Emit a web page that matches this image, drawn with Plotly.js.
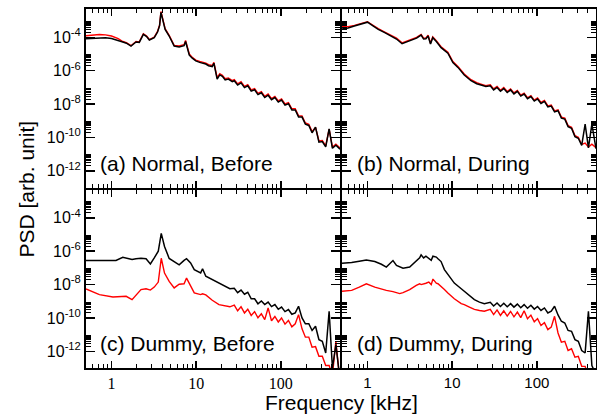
<!DOCTYPE html>
<html><head><meta charset="utf-8">
<script src="https://cdn.plot.ly/plotly-3.0.1.min.js"></script>
<style>html,body{margin:0;padding:0;background:#fff}#chart{width:597px;height:420px}</style>
</head><body><div id="chart"></div>
<script>
// Frequencies in kHz; PSD stored as log10 exponents
const hiFreq = [28.2,30.9,33.9,37.2,40.7,44.7,49.0,53.7,58.9,64.6,70.8,77.6,85.1,93.3,102,112,123,135,148,162,178,195,214,234,257,282,309,339,372,407,447,500];

// (a) Normal, Before
const aFreq = [0.5,0.6,0.72,0.85,1.0,1.2,1.36,1.5,1.7,1.95,2.13,2.38,2.6,2.8,3.2,3.5,3.7,3.84,4.0,4.3,4.8,5.5,6.3,7.2,7.5,7.8,8.3,9.0,9.9,11,12,13,14,15.5,16.2,17.7,19,20.4,22,24,26.7];
const aBlackLow = [-4.08,-4.05,-4.02,-4.03,-4.07,-4.17,-4.28,-4.35,-4.52,-4.28,-4.3,-3.82,-3.95,-4.16,-4.02,-3.68,-3.3,-2.5,-2.9,-3.52,-3.92,-4.52,-4.58,-4.5,-4.25,-4.55,-5.07,-5.25,-5.41,-5.5,-5.55,-5.6,-5.7,-5.75,-5.55,-6.5,-6.25,-6.34,-6.55,-6.5,-6.66];
const aRedLow = [-3.9,-3.86,-3.83,-3.85,-3.92,-4.08,-4.25,-4.32,-4.5,-4.25,-4.27,-3.78,-3.92,-4.13,-3.98,-3.64,-3.26,-2.45,-2.86,-3.48,-3.88,-4.48,-4.52,-4.44,-4.18,-4.5,-5.0,-5.2,-5.36,-5.44,-5.5,-5.54,-5.64,-5.69,-5.5,-6.42,-6.18,-6.27,-6.48,-6.43,-6.59];
const aBlackHi = [-6.60,-6.86,-6.73,-7.01,-6.90,-7.22,-7.14,-7.43,-7.32,-7.61,-7.47,-7.74,-7.61,-7.88,-7.76,-8.06,-7.98,-8.35,-8.35,-8.77,-8.78,-9.2,-9.28,-9.72,-9.38,-10.28,-10.25,-10.57,-9.48,-10.65,-10.47,-10.7];
const aRedHi = [-6.53,-6.79,-6.66,-6.94,-6.83,-7.15,-7.07,-7.36,-7.25,-7.54,-7.40,-7.67,-7.54,-7.81,-7.69,-7.99,-7.91,-8.28,-8.28,-8.70,-8.71,-9.13,-9.21,-9.65,-9.4,-10.21,-10.18,-10.50,-9.5,-10.58,-10.40,-10.63];

// (b) Normal, During
const bFreq = [0.5,0.59,0.7,0.85,1.0,1.15,1.34,1.6,1.92,2.2,2.56,2.9,3.3,3.8,4.3,4.6,4.9,5.2,5.55,5.9,6.5,7.4,8.9,10.2,11.7,13.9,16.7,19.5,21.9,25];
const bBlackLow = [-3.5,-3.44,-3.32,-3.2,-3.09,-3.3,-3.52,-3.72,-3.96,-4.1,-4.38,-4.28,-4.16,-4.05,-3.86,-4.1,-4.08,-3.92,-4.4,-4.02,-4.25,-4.62,-4.95,-5.51,-5.8,-6.26,-6.6,-6.78,-6.86,-6.95];
const bRedLow = [-3.36,-3.36,-3.28,-3.16,-3.06,-3.26,-3.48,-3.68,-3.92,-4.05,-4.33,-4.23,-4.11,-4.0,-3.82,-4.05,-4.03,-3.87,-4.35,-3.97,-4.2,-4.56,-4.89,-5.45,-5.74,-6.2,-6.54,-6.72,-6.8,-6.89];
const bBlackHi = [-6.90,-7.15,-7.00,-7.23,-7.07,-7.31,-7.15,-7.39,-7.24,-7.52,-7.40,-7.68,-7.55,-7.82,-7.69,-7.96,-7.84,-8.17,-8.12,-8.47,-8.40,-8.84,-8.90,-9.35,-9.45,-9.95,-10.05,-10.48,-9.2,-10.63,-9.2,-10.67];
const bRedHi = [-6.84,-7.09,-6.94,-7.17,-7.01,-7.25,-7.09,-7.33,-7.18,-7.46,-7.34,-7.62,-7.49,-7.76,-7.63,-7.90,-7.78,-8.11,-8.06,-8.41,-8.34,-8.78,-8.84,-9.29,-9.39,-9.89,-9.99,-10.42,-10.34,-10.57,-10.40,-10.61];

// (c) Dummy, Before
const cFreq = [0.5,0.72,1.04,1.13,1.36,1.49,1.75,1.95,2.23,2.56,2.88,3.2,3.57,3.87,4.23,4.8,5.5,6.3,7.2,7.7,8.6,9.5,11.3,11.9,13,15.5,18.6,22,25];
const cBlackLow = [-6.56,-6.56,-6.56,-6.55,-6.36,-6.42,-6.5,-6.45,-6.42,-6.45,-6.76,-6.4,-6.0,-4.93,-5.72,-6.43,-6.65,-6.82,-6.55,-6.45,-6.7,-7.1,-7.3,-7.05,-7.5,-7.7,-7.9,-8.1,-8.25];
const cRedLow = [-8.26,-8.6,-8.74,-8.74,-8.72,-8.7,-8.9,-8.6,-8.3,-8.25,-8.33,-8.15,-7.85,-6.42,-7.31,-7.81,-8.2,-7.98,-7.95,-7.61,-8.05,-8.5,-8.6,-8.55,-8.62,-8.94,-9.2,-9.28,-9.33];
const cBlackHi = [-8.22,-8.48,-8.33,-8.58,-8.46,-8.85,-8.85,-9.15,-8.98,-9.2,-9.05,-9.32,-9.2,-9.48,-9.35,-9.62,-9.5,-9.78,-9.7,-9.3,-10.0,-10.35,-10.35,-10.75,-10.5,-11.3,-11.4,-12.1,-9.6,-13.0,-11.6,-13.7];
const cRedHi = [-9.23,-9.57,-9.33,-9.70,-9.48,-9.85,-9.62,-9.99,-9.75,-10.10,-9.4,-10.17,-9.91,-10.24,-10.0,-10.37,-10.15,-10.53,-10.35,-9.8,-10.65,-11.15,-11.15,-11.75,-11.72,-12.3,-12.3,-12.85,-12.85,-13.45,-11.38,-13.9];

// (d) Dummy, During
const dFreq = [0.5,0.65,0.8,0.97,1.22,1.46,1.67,2.0,2.2,2.4,2.63,3.15,3.77,4.13,4.3,4.6,4.9,5.3,5.66,5.93,6.5,6.8,7.4,8.1,8.9,9.7,10.6,12.8,13.9,16,18.3,21,24];
const dBlackLow = [-6.72,-6.68,-6.6,-6.52,-6.62,-6.78,-6.95,-6.56,-6.85,-6.92,-7.02,-6.95,-6.55,-6.4,-6.22,-6.4,-6.3,-6.45,-6.55,-6.3,-6.35,-6.45,-6.62,-7.1,-7.41,-7.65,-7.91,-8.25,-8.4,-8.65,-8.9,-9.05,-9.14];
const dRedLow = [-8.4,-8.35,-8.15,-7.95,-8.15,-8.29,-8.35,-8.42,-8.48,-8.54,-8.48,-8.3,-8.05,-7.95,-8.0,-7.98,-7.92,-7.85,-8.0,-7.67,-7.92,-7.95,-8.1,-8.29,-8.5,-8.7,-8.85,-9.14,-9.2,-9.35,-9.49,-9.55,-9.6];
const dBlackHi = [-9.06,-9.28,-9.10,-9.31,-9.12,-9.33,-9.14,-9.35,-9.17,-9.39,-9.20,-9.42,-9.24,-9.47,-9.31,-9.55,-9.40,-9.70,-9.60,-9.3,-9.82,-10.2,-10.3,-10.75,-10.8,-11.3,-11.4,-11.95,-12.1,-9.6,-12.85,-13.4];
const dRedHi = [-9.48,-9.80,-9.52,-9.85,-9.57,-9.89,-9.61,-9.93,-9.65,-9.98,-9.57,-10.05,-9.83,-10.23,-10.04,-10.45,-10.28,-10.7,-10.55,-9.9,-10.9,-11.45,-11.4,-11.95,-11.85,-12.35,-12.3,-12.9,-12.9,-13.55,-13.55,-14];

const panelLabels = ['(a) Normal, Before','(b) Normal, During','(c) Dummy, Before','(d) Dummy, During'];
const xTickVals = [1,10,100];
const xTickText = ['1','10','100'];
const xMinorVals = [0.6,0.7,0.8,0.9,2,3,4,5,6,7,8,9,20,30,40,50,60,70,80,90,200,300,400];
const yTickVals = [1e-12,1e-10,1e-8,1e-6,1e-4];
const yTickText = ['10<sup>-12</sup>','10<sup>-10</sup>','10<sup>-8</sup>','10<sup>-6</sup>','10<sup>-4</sup>'];
const yMinorVals = [];
[1e-12,1e-10,1e-8,1e-6,1e-4].forEach(b => { for (let k = 2; k <= 9; k++) yMinorVals.push(k*b); });

const toPSD = arr => arr.map(e => Math.pow(10, e));
const panels = [
  {f: aFreq, bl: aBlackLow, bh: aBlackHi, rl: aRedLow, rh: aRedHi, ax: ''},
  {f: bFreq, bl: bBlackLow, bh: bBlackHi, rl: bRedLow, rh: bRedHi, ax: '2'},
  {f: cFreq, bl: cBlackLow, bh: cBlackHi, rl: cRedLow, rh: cRedHi, ax: '3'},
  {f: dFreq, bl: dBlackLow, bh: dBlackHi, rl: dRedLow, rh: dRedHi, ax: '4'}
];
const traces = [];
panels.forEach(p => {
  const x = p.f.concat(hiFreq);
  traces.push({x: x, y: toPSD(p.rl.concat(p.rh)), type: 'scatter', mode: 'lines',
    line: {color: '#ff0000', width: 1.4}, xaxis: 'x' + p.ax, yaxis: 'y' + p.ax, showlegend: false, hoverinfo: 'skip'});
  traces.push({x: x, y: toPSD(p.bl.concat(p.bh)), type: 'scatter', mode: 'lines',
    line: {color: '#000000', width: 1.5}, xaxis: 'x' + p.ax, yaxis: 'y' + p.ax, showlegend: false, hoverinfo: 'skip'});
});

function xAxis(domain, anchor, showLabels, serif) {
  return {type: 'log', domain: domain, anchor: anchor,
    range: [Math.log10(0.5), Math.log10(500)],
    showline: true, linecolor: '#000', linewidth: 2, mirror: 'ticks',
    ticks: 'inside', ticklen: 7, tickwidth: 1.5, tickcolor: '#000',
    tickmode: 'array', tickvals: xTickVals, ticktext: xTickText,
    showticklabels: showLabels,
    tickfont: {family: serif ? 'Liberation Serif, serif' : 'Liberation Sans, Arial, sans-serif', size: serif ? 16 : 15, color: '#000'},
    minor: {tickmode: 'array', tickvals: xMinorVals, ticks: 'inside', ticklen: 4, tickwidth: 1, tickcolor: '#000'},
    showgrid: false, zeroline: false, fixedrange: true};
}
function yAxis(domain, anchor, showLabels) {
  return {type: 'log', domain: domain, anchor: anchor, range: [-13, -2.3],
    showline: true, linecolor: '#000', linewidth: 2, mirror: 'ticks',
    ticks: 'inside', ticklen: 9, tickwidth: 1.5, tickcolor: '#000',
    tickmode: 'array', tickvals: yTickVals, ticktext: yTickText,
    showticklabels: showLabels,
    tickfont: {family: 'Liberation Sans, Arial, sans-serif', size: 16, color: '#000'},
    minor: {tickmode: 'array', tickvals: yMinorVals, ticks: 'inside', ticklen: 5, tickwidth: 1, tickcolor: '#000'},
    showgrid: false, zeroline: false, fixedrange: true};
}

// domains leave a 2px overlap so the shared borders are drawn once
const dx = 1 / 510, dy = 1 / 359;
const xLeft = [0, 0.5 - dx], xRight = [0.5 + dx, 1];
const yTop = [0.5 + dy, 1], yBottom = [0, 0.5 - dy];

const labelFont = {family: 'Liberation Sans, Arial, sans-serif', size: 21, color: '#000'};
const annotations = [
  {text: panelLabels[0], x: 0.0255, y: 0.571},
  {text: panelLabels[1], x: 0.529, y: 0.571},
  {text: panelLabels[2], x: 0.0255, y: 0.0696},
  {text: panelLabels[3], x: 0.529, y: 0.0696}
].map(a => Object.assign(a, {xref: 'paper', yref: 'paper', xanchor: 'left', yanchor: 'middle', showarrow: false, font: labelFont, borderpad: 0}));
annotations.push({text: 'PSD [arb. unit]', xref: 'paper', yref: 'paper', x: -0.1157, y: 0.5, textangle: -90,
  xanchor: 'center', yanchor: 'middle', showarrow: false, font: labelFont});
annotations.push({text: 'Frequency [kHz]', xref: 'paper', yref: 'paper', x: 0.5, y: -0.097,
  xanchor: 'center', yanchor: 'middle', showarrow: false, font: labelFont});

const layout = {
  width: 597, height: 420,
  margin: {l: 86, r: 1, t: 9, b: 52},
  paper_bgcolor: '#fff', plot_bgcolor: '#fff',
  showlegend: false,
  xaxis: xAxis(xLeft, 'y', false, true),
  yaxis: yAxis(yTop, 'x', true),
  xaxis2: xAxis(xRight, 'y2', false, false),
  yaxis2: yAxis(yTop, 'x2', false),
  xaxis3: xAxis(xLeft, 'y3', true, true),
  yaxis3: yAxis(yBottom, 'x3', true),
  xaxis4: xAxis(xRight, 'y4', true, false),
  yaxis4: yAxis(yBottom, 'x4', false),
  annotations: annotations
};
Plotly.newPlot('chart', traces, layout, {displayModeBar: false, staticPlot: true});
</script>
</body></html>
